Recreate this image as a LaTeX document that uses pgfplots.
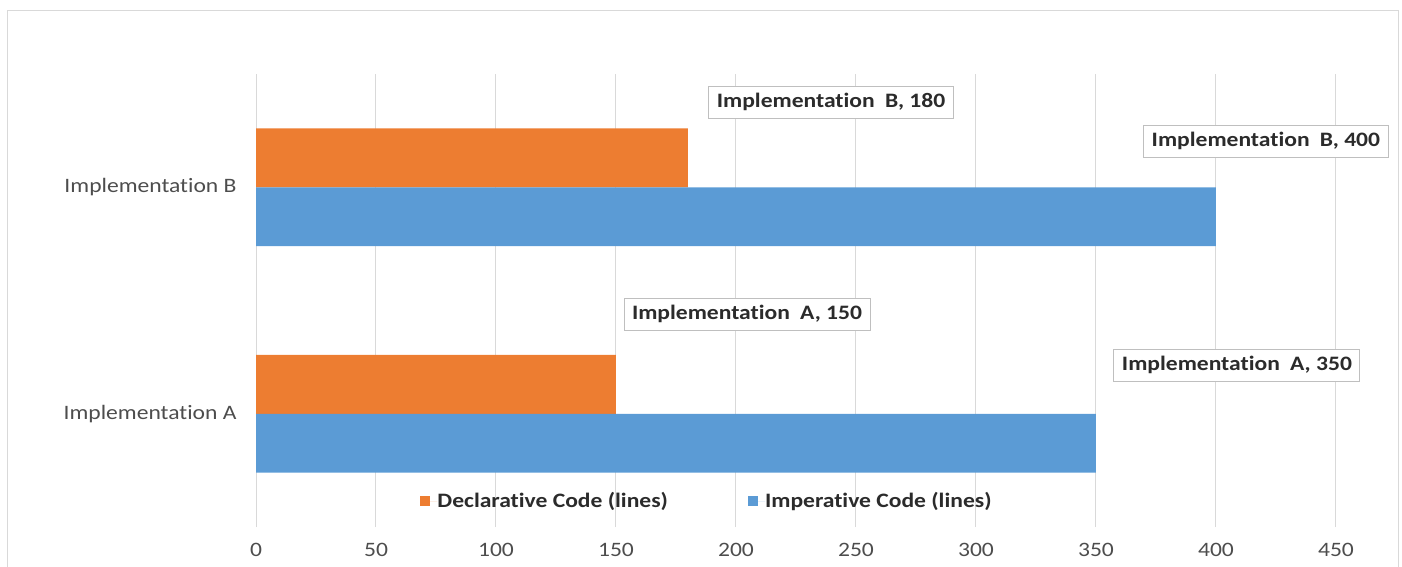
\documentclass[border=0pt]{standalone}
\usepackage{pgfplots}
\pgfplotsset{compat=1.18}
\usepackage{fontspec}
\setmainfont{Carlito}[FakeStretch=1.15, Ligatures=NoCommon]

\definecolor{declOrange}{HTML}{ED7D31}
\definecolor{impBlue}{HTML}{5B9BD5}
\definecolor{gridGray}{HTML}{D9D9D9}
\definecolor{frameGray}{HTML}{D9D9D9}
\definecolor{boxGray}{HTML}{BFBFBF}
\definecolor{axisText}{HTML}{4D4D4D}
\definecolor{labelText}{HTML}{2B2B2B}

\tikzset{
  label box/.style={
    draw=boxGray, line width=1pt, fill=white,
    font=\fontsize{20.5}{24}\selectfont\bfseries, text=labelText,
    inner xsep=8pt, minimum height=32pt,
  },
}

\begin{document}
\begin{tikzpicture}
  % page extent and chart-area frame
  \path[use as bounding box] (0pt,0pt) rectangle (1402pt,566pt);
  \draw[frameGray, line width=1pt] (7pt,-5pt) -- (7pt,555pt) -- (1398pt,555pt) -- (1398pt,-5pt);

  \begin{axis}[
    at={(256pt,39pt)}, anchor=south west,
    scale only axis,
    width=1080pt, height=453pt,
    clip=false,
    xbar,
    xmin=0, xmax=450,
    ymin=-0.5, ymax=1.5,
    xtick distance=50,
    ytick={0,1},
    yticklabels={Implementation A, Implementation B},
    bar width=0.26,
    axis line style={draw=none},
    major tick length=0pt,
    xmajorgrids,
    major grid style={gridGray, line width=1pt},
    /pgf/number format/assume math mode=true,
    tick label style={font=\fontsize{20.5}{24}\selectfont, text=axisText},
    xticklabel style={anchor=center, yshift=-23pt},
    yticklabel style={anchor=east, xshift=-16pt},
    legend style={
      draw=none, fill=none,
      at={(0.4167,0.0574)}, anchor=center,
      legend columns=2,
      font=\fontsize{20.5}{24}\selectfont\bfseries,
      text=labelText,
      inner xsep=0pt,
      /tikz/nodes={inner xsep=0pt},
      /tikz/column sep=0pt,
    },
    legend cell align=left,
    legend image code/.code={%
      \fill[#1] (0pt,-5pt) rectangle (10pt,5pt);
      \path (0pt,0pt) -- (17pt,0pt);},
  ]
    % declarative code, upper bar of each pair
    \addplot[fill=declOrange, draw=none, bar shift=0.13]
      coordinates {(150,0) (180,1)};
    \addlegendentry{Declarative Code (lines)\rule{80pt}{0pt}}
    % imperative code, lower bar of each pair
    \addplot[fill=impBlue, draw=none, bar shift=-0.13]
      coordinates {(350,0) (400,1)};
    \addlegendentry{Imperative Code (lines)}

    % data labels
    \node[label box] at (axis cs:239.6,1.375) {Implementation\hspace{0.5em}B, 180};
    \node[label box] at (axis cs:420.8,1.203) {Implementation\hspace{0.5em}B, 400};
    \node[label box] at (axis cs:204.6,0.439) {Implementation\hspace{0.5em}A, 150};
    \node[label box] at (axis cs:408.75,0.214) {Implementation\hspace{0.5em}A, 350};
  \end{axis}
\end{tikzpicture}
\end{document}
